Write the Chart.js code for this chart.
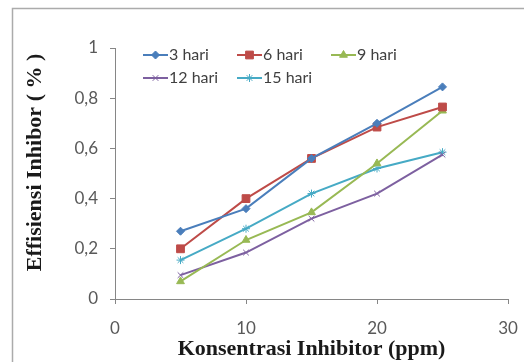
<!DOCTYPE html>
<html>
<head>
<meta charset="utf-8">
<script src="https://cdn.jsdelivr.net/npm/chart.js@4/dist/chart.umd.min.js"></script>
<style>
  html, body { margin: 0; padding: 0; background: #fff; }
  #wrap { position: relative; width: 524px; height: 362px; overflow: hidden; }
</style>
</head>
<body>
<div id="wrap"><canvas id="chart" width="524" height="362"></canvas></div>
<script>
// --- Data ---
const concentrations = [5, 10, 15, 20, 25];          // ppm
const seriesNames = ['3 hari', '6 hari', '9 hari', '12 hari', '15 hari'];
const hari3  = [0.27, 0.36, 0.56, 0.70, 0.845];
const hari6  = [0.20, 0.40, 0.56, 0.685, 0.765];
const hari9  = [0.07, 0.235, 0.345, 0.54, 0.75];
const hari12 = [0.095, 0.185, 0.32, 0.42, 0.575];
const hari15 = [0.155, 0.28, 0.42, 0.52, 0.585];
const xTickLabels = ['0', '10', '20', '30'];
const yTickLabels = ['0', '0,2', '0,4', '0,6', '0,8', '1'];

// --- Styles (Excel 2007 look) ---
const colors = ['#4a7ebb', '#be4b48', '#98b954', '#7d60a0', '#46aac5'];
const markers = ['rectRot', 'rect', 'triangle', 'crossRot', 'star'];
const markerSizes = [4, 5.5, 4.5, 4, 4];
const axisColor = '#868686';

function toPoints(values) {
    return values.map((v, i) => ({ x: concentrations[i], y: v }));
}

const allSeries = [hari3, hari6, hari9, hari12, hari15];
const datasets = allSeries.map((values, i) => ({
    label: seriesNames[i],
    data: toPoints(values),
    borderColor: colors[i],
    backgroundColor: colors[i],
    borderWidth: 2,
    pointStyle: markers[i],
    pointRadius: markerSizes[i],
    pointBorderWidth: 1,
    tension: 0
}));

// --- Plugin: grey frame of the chart object ---
const framePlugin = {
    id: 'frame',
    beforeDraw(chart) {
        const ctx = chart.ctx;
        ctx.save();
        ctx.fillStyle = '#fff';
        ctx.fillRect(0, 0, chart.width, chart.height);
        ctx.strokeStyle = '#ababab';
        ctx.lineWidth = 1.5;
        ctx.strokeRect(12.5, 8.5, 700, 700);
        ctx.restore();
    }
};

// --- Plugin: legend inside the plot, laid out in a 3-column grid ---
const legendInPlot = {
    id: 'legendInPlot',
    afterDraw(chart) {
        const ctx = chart.ctx;
        const left = 143, top = 55, colWidth = 94, rowHeight = 23, lineLen = 25;
        ctx.save();
        ctx.font = '16px Lato';
        ctx.textBaseline = 'middle';
        chart.data.datasets.forEach((ds, i) => {
            const x = left + (i % 3) * colWidth;
            const y = top + Math.floor(i / 3) * rowHeight;
            ctx.strokeStyle = ds.borderColor;
            ctx.fillStyle = ds.backgroundColor;
            ctx.lineWidth = 2;
            ctx.beginPath();
            ctx.moveTo(x, y);
            ctx.lineTo(x + lineLen, y);
            ctx.stroke();
            if (Chart.helpers && Chart.helpers.drawPoint) {
                ctx.lineWidth = 1;
                Chart.helpers.drawPoint(ctx, { pointStyle: ds.pointStyle, radius: ds.pointRadius, borderWidth: 1, rotation: 0 }, x + lineLen / 2, y);
            }
            ctx.fillStyle = '#404040';
            ctx.fillText(ds.label, x + lineLen + 1, y);
        });
        ctx.restore();
    }
};

const ctx = document.getElementById('chart').getContext('2d');
new Chart(ctx, {
    type: 'line',
    data: { datasets: datasets },
    plugins: [framePlugin, legendInPlot],
    options: {
        responsive: false,
        animation: false,
        devicePixelRatio: 1,
        layout: { padding: { top: 48, right: 16, left: 0, bottom: 0 } },
        plugins: {
            legend: { display: false },
            tooltip: { enabled: false }
        },
        scales: {
            x: {
                type: 'linear',
                min: 0, max: 30,
                afterFit: (scale) => {
                    scale.height = 63;
                    scale.paddingLeft = 0;   // keep the plot right edge at x=508
                    scale.paddingRight = 0;
                },
                ticks: {
                    stepSize: 10,
                    padding: 14,
                    color: '#595959',
                    font: { family: 'Lato', size: 17 },
                    callback: (value, index) => xTickLabels[index]
                },
                grid: { drawOnChartArea: false, drawTicks: true, tickLength: 5, color: axisColor },
                border: { display: true, color: axisColor, width: 1 },
                title: {
                    display: true,
                    text: 'Konsentrasi Inhibitor (ppm)',
                    color: '#1a1a1a',
                    font: { family: 'Liberation Serif', size: 22, weight: 'bold' },
                    padding: { top: 0, bottom: -1 }
                }
            },
            y: {
                min: 0, max: 1,
                afterFit: (scale) => {
                    scale.width = 115;
                    scale.paddingTop = 0;
                    scale.paddingBottom = 0;
                },
                ticks: {
                    stepSize: 0.2,
                    padding: 12,
                    color: '#595959',
                    font: { family: 'Lato', size: 17 },
                    callback: (value, index) => yTickLabels[index]
                },
                grid: { drawOnChartArea: false, drawTicks: true, tickLength: 5, color: axisColor },
                border: { display: true, color: axisColor, width: 1 },
                title: {
                    display: true,
                    // leading spaces nudge the centred title upward, as in the original
                    text: '    Effisiensi Inhibor ( % )',
                    color: '#1a1a1a',
                    font: { family: 'Liberation Serif', size: 22, weight: 'bold' },
                    padding: { top: 22, bottom: 0 }
                }
            }
        }
    }
});
</script>
</body>
</html>
